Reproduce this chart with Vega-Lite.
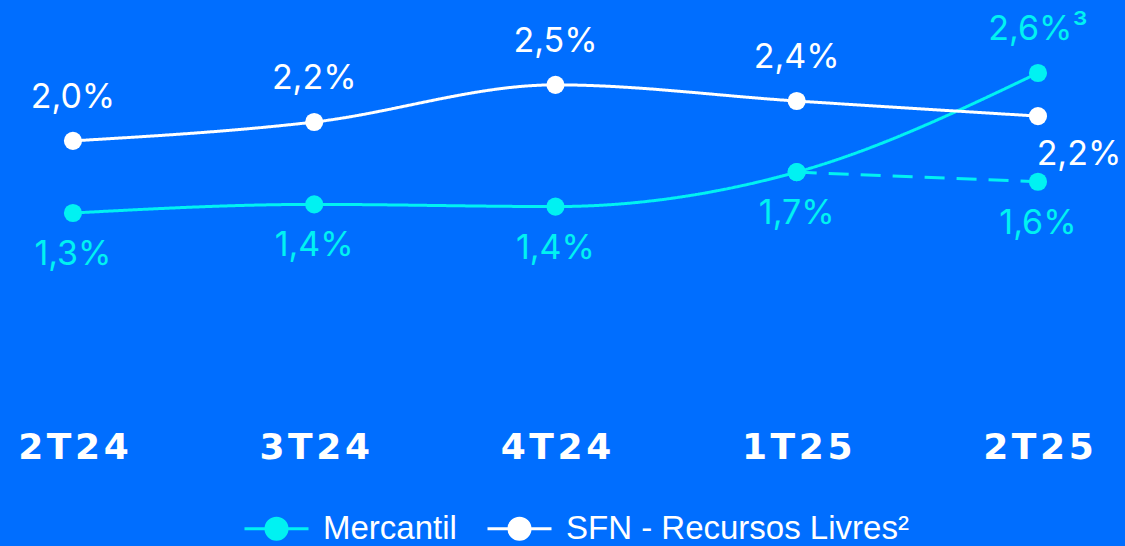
{
  "$schema": "https://vega.github.io/schema/vega-lite/v6.json",
  "width": 1125,
  "height": 420,
  "autosize": {"type": "none"},
  "padding": {"left": 0, "top": 0, "right": 0, "bottom": 126},
  "background": "#006EFF",
  "config": {"view": {"stroke": null}},
  "data": {
    "values": [
      {"quarter": "2T24", "serie": "Mercantil", "variant": "A", "value": 1.3, "label": "1,3%"},
      {"quarter": "3T24", "serie": "Mercantil", "variant": "A", "value": 1.38, "label": "1,4%"},
      {"quarter": "4T24", "serie": "Mercantil", "variant": "A", "value": 1.36, "label": "1,4%"},
      {"quarter": "1T25", "serie": "Mercantil", "variant": "A", "value": 1.68, "label": "1,7%"},
      {"quarter": "2T25", "serie": "Mercantil", "variant": "A", "value": 2.6, "label": "2,6%³"},
      {"quarter": "1T25", "serie": "Mercantil", "variant": "B", "value": 1.68, "label": null},
      {"quarter": "2T25", "serie": "Mercantil", "variant": "B", "value": 1.59, "label": "1,6%"},
      {"quarter": "2T24", "serie": "SFN - Recursos Livres²", "variant": "A", "value": 1.97, "label": "2,0%"},
      {"quarter": "3T24", "serie": "SFN - Recursos Livres²", "variant": "A", "value": 2.145, "label": "2,2%"},
      {"quarter": "4T24", "serie": "SFN - Recursos Livres²", "variant": "A", "value": 2.49, "label": "2,5%"},
      {"quarter": "1T25", "serie": "SFN - Recursos Livres²", "variant": "A", "value": 2.34, "label": "2,4%"},
      {"quarter": "2T25", "serie": "SFN - Recursos Livres²", "variant": "A", "value": 2.2, "label": "2,2%"}
    ]
  },
  "encoding": {
    "x": {
      "field": "quarter",
      "type": "ordinal",
      "sort": ["2T24", "3T24", "4T24", "1T25", "2T25"],
      "scale": {"type": "point", "padding": 0.3316, "align": 0.456},
      "axis": {
        "title": null,
        "orient": "bottom",
        "ticks": false,
        "domain": false,
        "grid": false,
        "labelAngle": 0,
        "labelPadding": 10,
        "labelFont": "DejaVu Sans",
        "labelFontWeight": "bold",
        "labelFontSize": 36,
        "labelColor": "#FFFFFF",
        "labelExpr": "join(split(datum.label, ''), '\u200a')"
      }
    },
    "y": {
      "field": "value",
      "type": "quantitative",
      "scale": {"domain": [-0.622, 3.278], "nice": false, "zero": false},
      "axis": null
    },
    "color": {
      "field": "serie",
      "type": "nominal",
      "scale": {"domain": ["Mercantil", "SFN - Recursos Livres²"], "range": ["#00F2F2", "#FFFFFF"]},
      "legend": {
        "title": null,
        "orient": "none",
        "direction": "horizontal",
        "legendX": 243,
        "legendY": 495,
        "symbolType": "M -1 0 L 1 0 M -0.33 0 A 0.33 0.33 0 1 0 0.33 0 A 0.33 0.33 0 1 0 -0.33 0 Z",
        "symbolSize": 4096,
        "symbolStrokeWidth": 3,
        "symbolOpacity": 1,
        "labelFont": "Liberation Sans",
        "labelFontSize": 33,
        "labelColor": "#FFFFFF",
        "labelOffset": 13,
        "columnPadding": 24,
        "labelLimit": 500,
        "encode": {
          "symbols": {
            "update": {
              "fill": {"scale": "color", "field": "value"},
              "stroke": {"scale": "color", "field": "value"}
            }
          }
        }
      }
    }
  },
  "layer": [
    {
      "mark": {"type": "line", "interpolate": "monotone", "strokeWidth": 3},
      "encoding": {
        "strokeDash": {
          "field": "variant",
          "type": "nominal",
          "scale": {"domain": ["A", "B"], "range": [[1, 0], [20, 12]]},
          "legend": null
        }
      }
    },
    {
      "mark": {"type": "circle", "size": 330, "opacity": 1}
    },
    {
      "transform": [
        {"filter": "(datum.serie === 'SFN - Recursos Livres²' && datum.quarter !== '2T25') || (datum.serie === 'Mercantil' && datum.variant === 'A' && datum.quarter === '2T25')"}
      ],
      "mark": {"type": "text", "font": "Inter", "fontSize": 34, "baseline": "middle", "align": "center", "dy": -43},
      "encoding": {"text": {"field": "label"}}
    },
    {
      "transform": [
        {"filter": "datum.serie === 'Mercantil' && datum.label !== null && !(datum.variant === 'A' && datum.quarter === '2T25')"}
      ],
      "mark": {"type": "text", "font": "Inter", "fontSize": 34, "baseline": "middle", "align": "center", "dy": 42},
      "encoding": {"text": {"field": "label"}}
    },
    {
      "transform": [
        {"filter": "datum.serie === 'SFN - Recursos Livres²' && datum.quarter === '2T25'"}
      ],
      "mark": {"type": "text", "font": "Inter", "fontSize": 34, "baseline": "middle", "align": "center", "dx": 41, "dy": 39},
      "encoding": {"text": {"field": "label"}}
    }
  ]
}
